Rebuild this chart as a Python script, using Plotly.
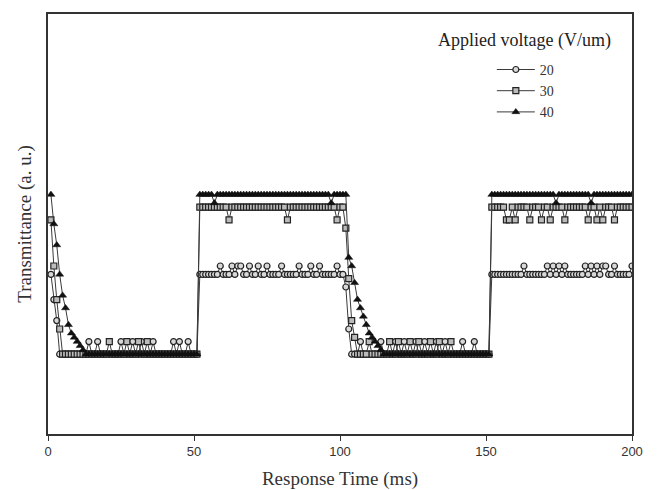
import plotly.graph_objects as go

time_ms = list(range(1, 201))

s20 = [
    38, 32, 27, 19, 19, 19, 19, 19, 19, 19,
    19, 19, 19, 22, 19, 19, 22, 19, 19, 19,
    19, 19, 19, 19, 22, 19, 19, 19, 22, 19,
    19, 22, 19, 19, 19, 22, 19, 19, 19, 19,
    19, 19, 22, 19, 22, 19, 19, 22, 19, 19,
    19, 38, 38, 38, 38, 38, 38, 38, 40, 38,
    38, 38, 40, 38, 40, 40, 38, 38, 40, 38,
    38, 40, 38, 38, 40, 38, 38, 38, 38, 40,
    38, 38, 38, 38, 38, 40, 38, 38, 38, 40,
    38, 38, 40, 38, 38, 38, 38, 38, 40, 38,
    38, 35, 25, 19, 19, 19, 22, 19, 19, 19,
    19, 19, 19, 22, 19, 19, 19, 19, 22, 19,
    19, 22, 19, 19, 19, 22, 19, 19, 22, 19,
    19, 19, 22, 19, 19, 22, 19, 19, 19, 19,
    19, 22, 19, 19, 19, 22, 19, 19, 19, 19,
    19, 38, 38, 38, 38, 38, 38, 38, 38, 38,
    38, 38, 40, 38, 38, 38, 38, 38, 38, 38,
    40, 38, 40, 38, 40, 38, 40, 38, 38, 38,
    38, 38, 38, 40, 38, 40, 38, 40, 38, 40,
    40, 38, 38, 40, 38, 38, 38, 38, 38, 40,
]

s30 = [
    51, 40, 32, 25, 19, 19, 19, 19, 19, 19,
    19, 19, 19, 19, 19, 19, 19, 19, 19, 19,
    22, 19, 19, 19, 19, 19, 22, 19, 19, 19,
    22, 19, 19, 22, 19, 19, 19, 19, 19, 19,
    19, 19, 19, 19, 19, 19, 19, 19, 19, 19,
    19, 54, 54, 54, 54, 54, 54, 54, 54, 54,
    54, 51, 54, 54, 54, 54, 54, 54, 54, 54,
    54, 54, 54, 54, 54, 54, 54, 54, 54, 54,
    54, 51, 54, 54, 54, 54, 54, 54, 54, 54,
    54, 54, 54, 54, 54, 54, 54, 54, 51, 54,
    54, 49, 37, 27, 23, 19, 19, 19, 19, 22,
    19, 19, 19, 19, 19, 19, 22, 19, 19, 22,
    19, 19, 19, 22, 19, 19, 22, 19, 19, 19,
    22, 19, 19, 22, 19, 19, 19, 22, 19, 19,
    19, 19, 19, 19, 19, 19, 19, 19, 19, 19,
    19, 54, 54, 54, 54, 54, 51, 51, 54, 51,
    54, 54, 54, 54, 51, 54, 54, 54, 51, 54,
    54, 51, 54, 54, 54, 54, 51, 54, 54, 54,
    54, 54, 54, 54, 51, 54, 54, 51, 54, 51,
    54, 54, 54, 51, 54, 54, 54, 54, 54, 54,
]

s40 = [
    57, 50, 45, 38, 33, 30, 26, 24, 23, 22,
    21, 20, 19, 19, 19, 19, 19, 19, 19, 19,
    19, 19, 19, 19, 19, 19, 19, 19, 19, 19,
    19, 19, 19, 19, 19, 19, 19, 19, 19, 19,
    19, 19, 19, 19, 19, 19, 19, 19, 19, 19,
    19, 57, 57, 57, 57, 57, 55, 57, 57, 57,
    57, 57, 57, 57, 57, 57, 57, 57, 57, 57,
    57, 57, 57, 57, 57, 57, 57, 57, 57, 57,
    57, 57, 57, 57, 57, 57, 57, 57, 57, 57,
    57, 57, 57, 57, 57, 57, 55, 57, 57, 57,
    57, 57, 42, 40, 36, 32, 30, 28, 26, 24,
    23, 22, 21, 20, 19, 19, 19, 19, 19, 19,
    19, 19, 19, 19, 19, 19, 19, 19, 19, 19,
    19, 19, 19, 19, 19, 19, 19, 19, 19, 19,
    19, 19, 19, 19, 19, 19, 19, 19, 19, 19,
    19, 57, 57, 57, 57, 57, 57, 57, 57, 57,
    57, 57, 57, 57, 57, 57, 57, 57, 57, 57,
    57, 57, 57, 55, 57, 57, 57, 57, 57, 57,
    57, 57, 57, 57, 57, 55, 57, 57, 57, 57,
    57, 57, 57, 57, 57, 57, 57, 57, 57, 57,
]

series_names = ["20", "30", "40"]
x_ticks = [0, 50, 100, 150, 200]

SERIF = "Liberation Serif"
SANS = "Liberation Sans"
LINE_C = "#3a3a3a"

fig = go.Figure()
styles = [
    dict(symbol="circle", size=6, color="#d8d8d8", line=dict(color="#222", width=1.2)),
    dict(symbol="square", size=6, color="#bbbbbb", line=dict(color="#222", width=1.2)),
    dict(symbol="triangle-up", size=7, color="#111111", line=dict(color="#111", width=0.5)),
]
for name, ys, mk in zip(series_names, [s20, s30, s40], styles):
    fig.add_trace(go.Scatter(
        x=time_ms, y=ys, name=name, mode="lines+markers",
        line=dict(color=LINE_C, width=1),
        marker=mk,
    ))

fig.update_layout(
    width=657, height=490,
    margin=dict(l=48, r=25, t=14, b=56),
    paper_bgcolor="white", plot_bgcolor="white",
    showlegend=True,
    legend=dict(
        x=0.76, y=0.905, xanchor="left", yanchor="top",
        font=dict(family=SERIF, size=14, color="#333"),
        bgcolor="rgba(0,0,0,0)", itemwidth=38,
        tracegroupgap=0,
    ),
    annotations=[dict(
        text="Applied voltage (V/um)", xref="paper", yref="paper",
        x=0.968, y=0.937, xanchor="right", yanchor="middle", showarrow=False,
        font=dict(family=SERIF, size=18, color="#222"),
    )],
    xaxis=dict(
        range=[0, 200], tickvals=x_ticks, ticktext=[str(v) for v in x_ticks],
        showline=True, linecolor="#333", linewidth=1.5, mirror=True,
        ticks="outside", ticklen=5, tickcolor="#333", showgrid=False, zeroline=False,
        tickfont=dict(family=SANS, size=13, color="#333"),
        automargin=False,
        title=dict(text="Response Time (ms)", font=dict(family=SERIF, size=19, color="#333"), standoff=14),
    ),
    yaxis=dict(
        range=[0, 100], showticklabels=False, ticks="",
        showline=True, linecolor="#333", linewidth=1.5, mirror=True,
        showgrid=False, zeroline=False, automargin=False,
        title=dict(text="Transmittance (a. u.)", font=dict(family=SERIF, size=19, color="#333"), standoff=10),
    ),
)

fig.write_html("out.html")
